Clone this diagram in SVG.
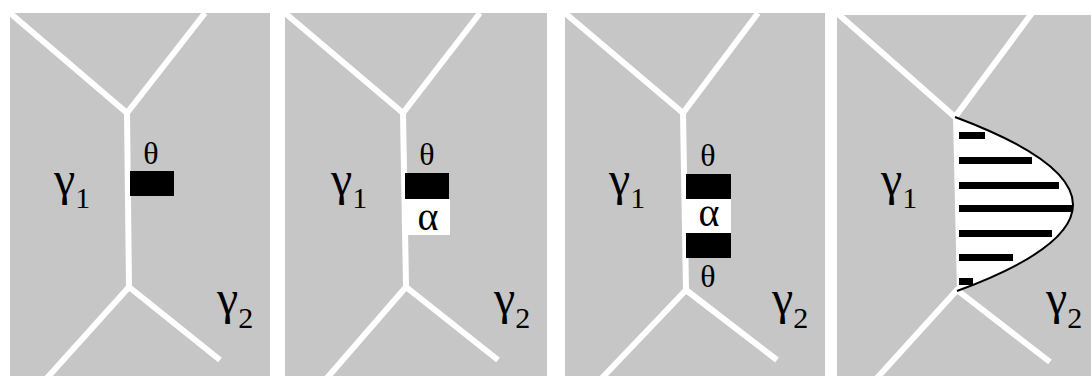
<svg xmlns="http://www.w3.org/2000/svg" width="1091" height="376" viewBox="0 0 1091 376">
<style>
.bg{fill:#c6c6c6}
.wl{stroke:#fff;stroke-width:6;fill:none;stroke-linejoin:round}
.blk{fill:#000}
.wht{fill:#fff}
</style>
<rect width="1091" height="376" fill="#fff"/>
<g id="panel1">
<rect class="bg" x="10" y="13" width="260" height="363"/>
<g id="connectors1">
<polyline class="wl" points="10,13 127,113 205,13"/>
<polyline class="wl" points="127,113 129,287"/>
<polyline class="wl" points="47,378 129,287 220,360"/>
</g>
<g id="p1-theta"><text font-family="Liberation Serif" font-size="32" text-anchor="middle" x="151" y="164">θ</text><rect class="blk" x="130" y="171" width="44" height="25"/></g>
<g id="p1-g1"><text font-family="Liberation Serif" font-size="48" x="54" y="195">γ<tspan font-size="30" dy="13">1</tspan></text></g>
<g id="p1-g2"><text font-family="Liberation Serif" font-size="48" x="217" y="314">γ<tspan font-size="30" dy="14">2</tspan></text></g>
</g>
<g id="panel2">
<rect class="bg" x="285" y="13" width="262" height="363"/>
<g id="connectors2">
<polyline class="wl" points="285,13 403,113 480,13"/>
<polyline class="wl" points="403,113 406,287"/>
<polyline class="wl" points="327,378 406,287 498,360"/>
</g>
<g id="p2-theta"><text font-family="Liberation Serif" font-size="32" text-anchor="middle" x="427" y="165">θ</text><rect class="blk" x="405" y="173" width="44" height="26"/></g>
<g id="p2-alpha"><rect class="wht" x="405" y="199" width="45" height="36"/><text font-family="Liberation Serif" font-size="40" text-anchor="middle" x="428" y="230">α</text></g>
<g id="p2-g1"><text font-family="Liberation Serif" font-size="48" x="331" y="195">γ<tspan font-size="30" dy="13">1</tspan></text></g>
<g id="p2-g2"><text font-family="Liberation Serif" font-size="48" x="494" y="314">γ<tspan font-size="30" dy="14">2</tspan></text></g>
</g>
<g id="panel3">
<rect class="bg" x="565" y="13" width="260" height="363"/>
<g id="connectors3">
<polyline class="wl" points="565,13 683,113 758,13"/>
<polyline class="wl" points="683,113 686,290"/>
<polyline class="wl" points="602,378 686,290 777,360"/>
</g>
<g id="p3-theta1"><text font-family="Liberation Serif" font-size="32" text-anchor="middle" x="708" y="166">θ</text><rect class="blk" x="686" y="174" width="45" height="25"/></g>
<g id="p3-alpha"><rect class="wht" x="686" y="199" width="45" height="34"/><text font-family="Liberation Serif" font-size="40" text-anchor="middle" x="709" y="226">α</text></g>
<g id="p3-theta2"><rect class="blk" x="686" y="233" width="45" height="25"/><text font-family="Liberation Serif" font-size="32" text-anchor="middle" x="708" y="287">θ</text></g>
<g id="p3-g1"><text font-family="Liberation Serif" font-size="48" x="609" y="195">γ<tspan font-size="30" dy="13">1</tspan></text></g>
<g id="p3-g2"><text font-family="Liberation Serif" font-size="48" x="772" y="314">γ<tspan font-size="30" dy="14">2</tspan></text></g>
</g>
<g id="panel4">
<rect class="bg" x="837" y="15" width="254" height="361"/>
<g id="connectors4">
<polyline class="wl" points="837,13 955,117 1032,13"/>
<polyline class="wl" points="877,378 957,290 1050,362"/>
</g>
<g id="p4-profile">
<path d="M953,117 Q1190,205 957,291 Z" fill="#fff"/>
<path d="M955,117 Q1190,205 957,291" fill="none" stroke="#000" stroke-width="2"/>
<rect class="blk" x="959" y="132" width="26" height="7"/>
<rect class="blk" x="959" y="157" width="73" height="7"/>
<rect class="blk" x="959" y="182" width="100" height="7"/>
<rect class="blk" x="959" y="205" width="113" height="7"/>
<rect class="blk" x="959" y="230" width="93" height="7"/>
<rect class="blk" x="959" y="254" width="54" height="7"/>
<rect class="blk" x="959" y="278" width="14" height="7"/>
</g>
<g id="p4-g1"><text font-family="Liberation Serif" font-size="48" x="881" y="195">γ<tspan font-size="30" dy="13">1</tspan></text></g>
<g id="p4-g2"><text font-family="Liberation Serif" font-size="48" x="1046" y="314">γ<tspan font-size="30" dy="14">2</tspan></text></g>
</g>
</svg>
